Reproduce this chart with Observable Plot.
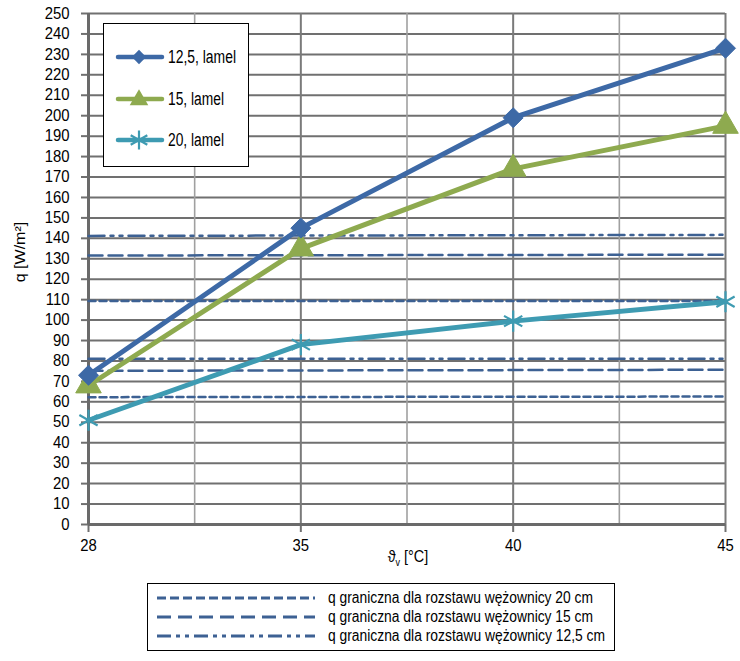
<!DOCTYPE html>
<html>
<head>
<meta charset="utf-8">
<script src="https://cdn.jsdelivr.net/npm/d3@7"></script>
<script src="https://cdn.jsdelivr.net/npm/@observablehq/plot@0.6"></script>
<style>
  html, body { margin: 0; padding: 0; background: #fff; }
  #wrap { position: relative; width: 740px; height: 661px; font-family: "Liberation Sans", Arial, sans-serif; color: #000; }
  #chart { position: absolute; left: 0; top: 0; }
  .lbl { position: absolute; font-size: 16px; white-space: nowrap; }
  #inset { position: absolute; left: 103px; top: 23px; width: 144px; height: 142px; border: 1.5px solid #000; background: #fff; }
  #inset .row { position: absolute; left: 12px; display: flex; align-items: center; font-size: 18px; white-space: nowrap; }
  #bottom { position: absolute; left: 147px; top: 583px; width: 466px; height: 66px; border: 1.5px solid #000; background: #fff; }
  #bottom .row { position: absolute; left: 9px; display: flex; align-items: center; font-size: 16px; white-space: nowrap; }
  .fit { display: inline-block; transform-origin: 0 50%; white-space: nowrap; }
</style>
</head>
<body>
<div id="wrap">
  <div id="chart"></div>
  <div class="lbl" id="ylab" style="left:20px; top:252px; transform: translate(-50%,-50%) rotate(-90deg) scale(1,0.9);">q [W/m²]</div>
  <div class="lbl" id="xlab" style="left:408px; top:558px; transform: translate(-50%,-50%) scale(0.9,1);">ϑ<sub style="font-size:10px">v</sub> [°C]</div>
  <div id="inset"></div>
  <div id="bottom"></div>
</div>
<script>
// ---- data ----
const categories = ["28", "35", "40", "45"];
const seriesNames = ["12,5, lamel", "15, lamel", "20, lamel"];
const s125 = [73, 145, 199, 233];
const s15  = [68, 135, 174, 195];
const s20  = [51, 88, 99.5, 109];
const yTicks = d3.range(0, 251, 10);

// limit lines (value at left end, value at right end)
const limitNames = [
  "q graniczna dla rozstawu wężownicy 20 cm",
  "q graniczna dla rozstawu wężownicy 15 cm",
  "q graniczna dla rozstawu wężownicy 12,5 cm"
];
const lim20a = [109.4, 109.4], lim20b = [62.3, 62.6];
const lim15a = [131.6, 132.0], lim15b = [75.2, 75.7];
const lim125a = [141.2, 141.7], lim125b = [81.1, 81.1];

// ---- styles ----
const colors = ["#3d69a6", "#8eaa4f", "#3e9bb2"];
const limColor = "#3d6193";
const dashes = ["7,4", "14,6", "16,6,3,6,3,6"];
const legendDashes = ["9,4", "14,7", "14,5,4,5,4,5"];
const insetTextWidths = [68, 56, 56];
const bottomTextWidths = [265, 265, 277];

const series = [s125, s15, s20];
const rows = [];
series.forEach((vals, si) => vals.forEach((v, i) => rows.push({s: seriesNames[si], i, v, k: si})));

const limits = [[lim20a, lim20b], [lim15a, lim15b], [lim125a, lim125b]];
const limRows = [];
limits.forEach((pair, li) => pair.forEach((ends, j) => {
  limRows.push({g: li + "-" + j, k: li, i: 0, v: ends[0]});
  limRows.push({g: li + "-" + j, k: li, i: categories.length - 1, v: ends[1]});
}));

const gridX = d3.range(0, categories.length - 1 + 0.001, 0.5);
const last = categories.length - 1;

const fontFamily = '"Liberation Sans", Arial, sans-serif';

const marks = [
  Plot.ruleY(yTicks.slice(1), {stroke: "#707070", strokeWidth: 2}),
  Plot.ruleX(gridX.filter(d => d % 1 !== 0), {stroke: "#a0a0a0", strokeWidth: 1.6}),
  Plot.ruleX(gridX.filter(d => d % 1 === 0 && d > 0), {stroke: "#7a7a7a", strokeWidth: 2}),
  Plot.axisY({ticks: yTicks, tickSize: 7, tickPadding: 12, label: null, stroke: "#707070", strokeWidth: 2, fontSize: 16}),
  Plot.axisX({ticks: d3.range(categories.length), tickFormat: i => categories[i], tickSize: 8, tickPadding: 7, label: null, stroke: "#707070", strokeWidth: 2, fontSize: 16}),
  Plot.ruleX([0], {stroke: "#6a6a6a", strokeWidth: 3}),
  Plot.ruleY([0], {stroke: "#6a6a6a", strokeWidth: 3})
];
[0, 1, 2].forEach(k => {
  marks.push(Plot.line(limRows.filter(d => d.k === k), {x: "i", y: "v", z: "g", stroke: limColor, strokeWidth: 2.5, strokeDasharray: dashes[k]}));
});
[2, 1, 0].forEach(k => {
  const data = rows.filter(d => d.k === k);
  marks.push(Plot.line(data, {x: "i", y: "v", stroke: colors[k], strokeWidth: 5, strokeLinejoin: "round"}));
  if (k === 2) {
    marks.push(Plot.dot(data, {x: "i", y: "v", symbol: "asterisk", stroke: colors[k], strokeWidth: 2.2, r: 10}));
  } else if (k === 1) {
    marks.push(Plot.dot(data, {x: "i", y: "v", symbol: "triangle", fill: colors[k], stroke: colors[k], strokeWidth: 1, r: 9.5}));
  } else {
    marks.push(Plot.dot(data, {x: "i", y: "v", symbol: "diamond2", fill: colors[k], stroke: colors[k], strokeWidth: 1, r: 9}));
  }
});

const chart = Plot.plot({
  width: 740,
  height: 570,
  marginLeft: 88,
  marginRight: 15,
  marginTop: 13,
  marginBottom: 46,
  style: {fontFamily, fontSize: "16px", color: "#000", background: "transparent", overflow: "visible"},
  x: {type: "linear", domain: [0, last]},
  y: {domain: [0, 250]},
  marks
});
document.getElementById("chart").appendChild(chart);
// narrow the tick labels slightly to resemble the condensed font of the original
chart.querySelectorAll('g[aria-label="y-axis tick label"] text, g[aria-label="x-axis tick label"] text').forEach(t => {
  const tr = t.getAttribute("transform") || "";
  t.setAttribute("transform", tr + " scale(0.93,1)");
});

function fit(span, target) {
  const w = span.getBoundingClientRect().width;
  if (w > 0) span.style.transform = `scaleX(${target / w})`;
}

// ---- inset legend ----
const inset = document.getElementById("inset");
const insetTops = [33, 75, 116];
seriesNames.forEach((name, k) => {
  const row = document.createElement("div");
  row.className = "row";
  row.style.top = (insetTops[k] - 11) + "px";
  let markerSvg;
  if (k === 0) markerSvg = `<path transform="translate(23,11)" d="${d3.symbol(d3.symbolDiamond2, 130)()}" fill="${colors[k]}"/>`;
  else if (k === 1) markerSvg = `<path transform="translate(23,12)" d="${d3.symbol(d3.symbolTriangle, 150)()}" fill="${colors[k]}"/>`;
  else markerSvg = `<path transform="translate(23,11)" d="${d3.symbol(d3.symbolAsterisk, 260)()}" fill="none" stroke="${colors[k]}" stroke-width="2.2"/>`;
  row.innerHTML = `<svg width="48" height="22" style="display:block;overflow:visible"><line x1="2" x2="46" y1="11" y2="11" stroke="${colors[k]}" stroke-width="4.5" stroke-linecap="round"/>${markerSvg}</svg><span class="fit" style="margin-left:4px">${name}</span>`;
  inset.appendChild(row);
  fit(row.querySelector(".fit"), insetTextWidths[k]);
});

// ---- bottom legend ----
const bottom = document.getElementById("bottom");
const bTops = [14, 33, 52];
limitNames.forEach((name, k) => {
  const row = document.createElement("div");
  row.className = "row";
  row.style.top = (bTops[k] - 9) + "px";
  row.innerHTML = `<svg width="158" height="18" style="display:block"><line x1="0" x2="158" y1="9" y2="9" stroke="${limColor}" stroke-width="3" stroke-dasharray="${legendDashes[k]}"/></svg><span class="fit" style="margin-left:13px">${name}</span>`;
  bottom.appendChild(row);
  fit(row.querySelector(".fit"), bottomTextWidths[k]);
});
</script>
</body>
</html>
